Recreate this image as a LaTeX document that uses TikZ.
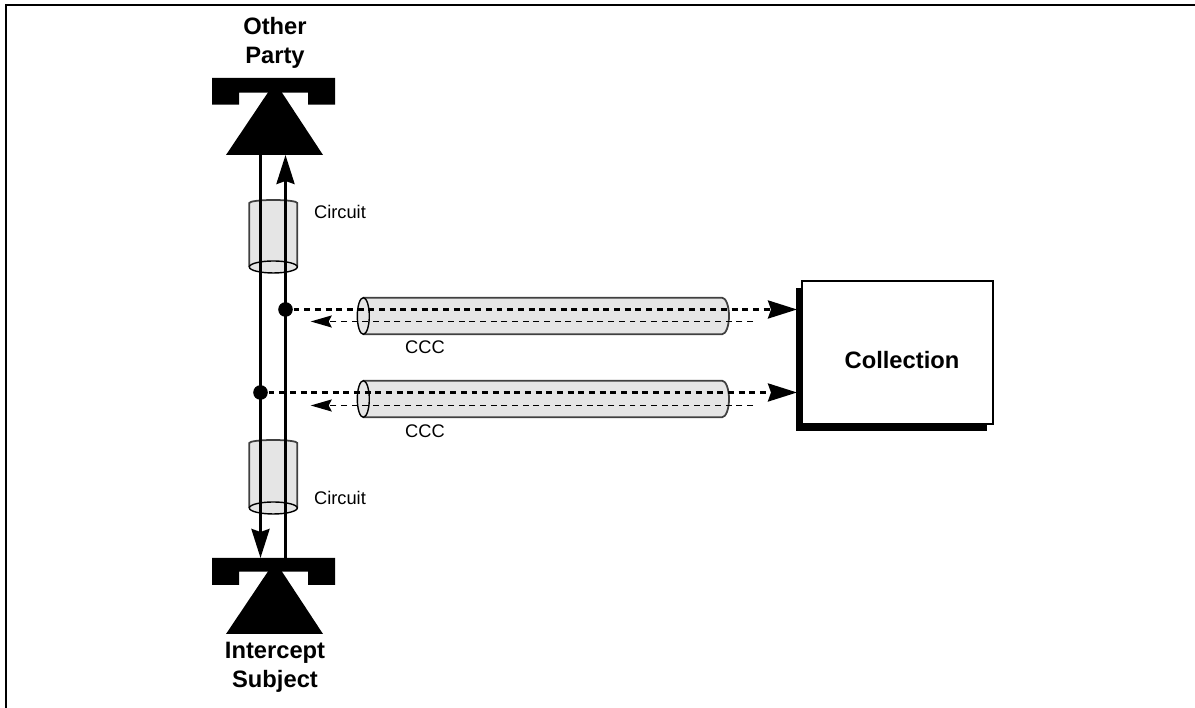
\documentclass[tikz,border=0pt]{standalone}
\usepackage{fontspec}
\setmainfont{Liberation Sans}
\usetikzlibrary{arrows.meta,shadows}

\tikzset{
  bigfont/.style={font=\fontsize{6.75}{8.25}\selectfont\bfseries,align=center},
  smallfont/.style={font=\fontsize{5.2}{6.5}\selectfont},
  tube/.style={fill=black!10,draw=black!75,line width=0.5pt},
  tubeend/.style={fill=black!10,draw=black,line width=0.4pt},
  wire/.style={line width=0.9pt},
  tapdot/.style={circle,fill=black,inner sep=0pt,minimum size=0.146cm},
  thickdash/.style={line width=0.85pt,dash pattern=on 1.7pt off 1.34pt},
  thindash/.style={line width=0.45pt,dash pattern=on 1.7pt off 1.34pt},
  bighead/.style={-{Stealth[length=0.29cm,width=0.18cm,inset=0.03cm]}},
  smallhead/.style={-{Stealth[length=0.21cm,width=0.12cm,inset=0.03cm]}},
  collectbox/.style={draw=black,line width=0.7pt,fill=white,minimum width=1.91cm,minimum height=1.43cm,inner sep=0pt,
    drop shadow={shadow xshift=-0.06cm,shadow yshift=-0.07cm,fill=black,opacity=1}}
}

\begin{document}
\begin{tikzpicture}
\useasboundingbox (0,0) rectangle (11.95,7.08);

% 外框
\draw[line width=0.8pt] (0.06,0) -- (0.06,7.03) -- (11.95,7.03);

% 两个电话
\fill (2.12,6.30) -- (3.35,6.30) -- (3.35,6.033) -- (3.08,6.033) -- (3.08,6.153) -- (2.39,6.153) -- (2.39,6.033) -- (2.12,6.033) -- cycle;
\fill (2.26,5.53) -- (2.75,6.26) -- (3.23,5.53) -- cycle;
\fill (2.12,1.50) -- (3.35,1.50) -- (3.35,1.23) -- (3.08,1.23) -- (3.08,1.363) -- (2.39,1.363) -- (2.39,1.23) -- (2.12,1.23) -- cycle;
\fill (2.26,0.74) -- (2.75,1.47) -- (3.23,0.74) -- cycle;

% 竖直的圆柱
\draw[tube] (2.493,4.41) -- (2.493,5.05) arc[start angle=180,end angle=0,x radius=0.24,y radius=0.03] -- (2.973,4.41);
\draw[tubeend] (2.733,4.41) ellipse (0.24cm and 0.06cm);
\draw[tube] (2.493,2.00) -- (2.493,2.65) arc[start angle=180,end angle=0,x radius=0.24,y radius=0.03] -- (2.973,2.00);
\draw[tubeend] (2.733,2.00) ellipse (0.24cm and 0.06cm);

% 水平的圆柱
\draw[tube] (3.633,3.737) -- (7.22,3.737) arc[start angle=-90,end angle=90,x radius=0.07,y radius=0.183] -- (3.633,4.103);
\draw[tubeend] (3.633,3.92) ellipse (0.06cm and 0.183cm);
\draw[tube] (3.633,2.907) -- (7.22,2.907) arc[start angle=-90,end angle=90,x radius=0.07,y radius=0.183] -- (3.633,3.273);
\draw[tubeend] (3.633,3.09) ellipse (0.06cm and 0.183cm);

% 接收框
\node[collectbox] (collection) at (8.975,3.555) {};
\node[bigfont] (collectionlabel) at (9.02,3.475) {Collection};

% 线路的端点
\coordinate (otherL) at (2.605,5.53);
\coordinate (otherR) at (2.855,5.53);
\coordinate (subjectL) at (2.605,1.50);
\coordinate (subjectR) at (2.855,1.50);
\coordinate (inA) at (7.97,3.985);
\coordinate (inB) at (7.97,3.155);
\coordinate (backA) at (3.107,3.865);
\coordinate (backB) at (3.107,3.025);
\coordinate (startA) at (7.53,3.865);
\coordinate (startB) at (7.53,3.025);

% 线路
\draw[wire,bighead] (otherL) -- (subjectL);
\draw[wire,bighead] (subjectR) -- (otherR);

% 分接点和虚线
\node[tapdot] (tapA) at (2.855,3.985) {};
\node[tapdot] (tapB) at (2.605,3.155) {};
\draw[thickdash,bighead] (tapA) -- (inA);
\draw[thickdash,bighead] (tapB) -- (inB);
\draw[thindash,smallhead] (startA) -- (backA);
\draw[thindash,smallhead] (startB) -- (backB);

% 标签
\node[bigfont] (otherlabel) at (2.75,6.655) {Other\\Party};
\node[bigfont] (subjectlabel) at (2.75,0.41) {Intercept\\Subject};
\node[smallfont] (circuitA) at (3.40,4.96) {Circuit};
\node[smallfont] (circuitB) at (3.40,2.10) {Circuit};
\node[smallfont] (cccA) at (4.25,3.61) {CCC};
\node[smallfont] (cccB) at (4.25,2.77) {CCC};
\end{tikzpicture}
\end{document}
